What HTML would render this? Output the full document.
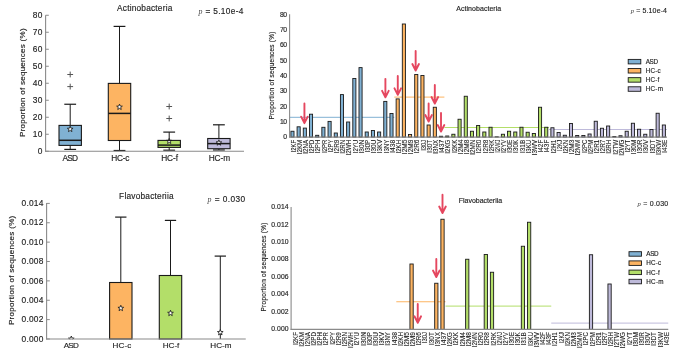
<!DOCTYPE html>
<html><head><meta charset="utf-8"><title>Actinobacteria / Flavobacteriia</title>
<style>
html,body{margin:0;padding:0;background:#fff;}
body{width:685px;height:356px;overflow:hidden;}
svg{display:block;font-family:'Liberation Sans', sans-serif;will-change:transform;}
text{stroke:#222;stroke-width:0.15px;}
.lb{stroke-width:0.1px;}
</style></head><body>
<svg width="685" height="356" viewBox="0 0 685 356">
<rect width="685" height="356" fill="#fff"/>
<line x1="70.2" y1="104.25" x2="70.2" y2="125.4" stroke="#1a1a1a" stroke-width="1"/>
<line x1="64.3" y1="104.25" x2="76.1" y2="104.25" stroke="#1a1a1a" stroke-width="1.2"/>
<line x1="70.2" y1="145.4" x2="70.2" y2="149.4" stroke="#1a1a1a" stroke-width="1"/>
<line x1="64.3" y1="149.4" x2="76.1" y2="149.4" stroke="#1a1a1a" stroke-width="1.2"/>
<rect x="59" y="125.4" width="22.4" height="20" fill="#80b1d3"/>
<path d="M67.3 74.5H73.1M70.2 71.6V77.4" stroke="#555" stroke-width="1" fill="none"/>
<path d="M67.3 86.6H73.1M70.2 83.7V89.5" stroke="#555" stroke-width="1" fill="none"/>
<line x1="119.5" y1="26.4" x2="119.5" y2="83.4" stroke="#1a1a1a" stroke-width="1"/>
<line x1="113.6" y1="26.4" x2="125.4" y2="26.4" stroke="#1a1a1a" stroke-width="1.2"/>
<line x1="119.5" y1="140.5" x2="119.5" y2="150.5" stroke="#1a1a1a" stroke-width="1"/>
<line x1="113.6" y1="150.5" x2="125.4" y2="150.5" stroke="#1a1a1a" stroke-width="1.2"/>
<rect x="108.3" y="83.4" width="22.4" height="57.1" fill="#fdb462"/>
<line x1="169.2" y1="132.1" x2="169.2" y2="140.4" stroke="#1a1a1a" stroke-width="1"/>
<line x1="163.3" y1="132.1" x2="175.1" y2="132.1" stroke="#1a1a1a" stroke-width="1.2"/>
<line x1="169.2" y1="147.4" x2="169.2" y2="150.2" stroke="#1a1a1a" stroke-width="1"/>
<line x1="163.3" y1="150.2" x2="175.1" y2="150.2" stroke="#1a1a1a" stroke-width="1.2"/>
<rect x="158" y="140.4" width="22.4" height="7" fill="#b3de69"/>
<path d="M166.3 106.5H172.1M169.2 103.6V109.4" stroke="#555" stroke-width="1" fill="none"/>
<path d="M166.3 118.5H172.1M169.2 115.6V121.4" stroke="#555" stroke-width="1" fill="none"/>
<line x1="218.9" y1="124.8" x2="218.9" y2="138.5" stroke="#1a1a1a" stroke-width="1"/>
<line x1="213" y1="124.8" x2="224.8" y2="124.8" stroke="#1a1a1a" stroke-width="1.2"/>
<line x1="218.9" y1="148.7" x2="218.9" y2="150" stroke="#1a1a1a" stroke-width="1"/>
<line x1="213" y1="150" x2="224.8" y2="150" stroke="#1a1a1a" stroke-width="1.2"/>
<rect x="207.7" y="138.5" width="22.4" height="10.2" fill="#bebada"/>
<polygon points="70.2,126.2 70.94,128.18 73.05,128.27 71.4,129.59 71.96,131.63 70.2,130.46 68.44,131.63 69,129.59 67.35,128.27 69.46,128.18" fill="#fff" stroke="#111" stroke-width="0.8" stroke-linejoin="miter"/>
<polygon points="119.5,104.1 120.24,106.08 122.35,106.17 120.7,107.49 121.26,109.53 119.5,108.36 117.74,109.53 118.3,107.49 116.65,106.17 118.76,106.08" fill="#fff" stroke="#111" stroke-width="0.8" stroke-linejoin="miter"/>
<polygon points="169.2,138.4 169.89,140.25 171.86,140.33 170.32,141.56 170.85,143.47 169.2,142.38 167.55,143.47 168.08,141.56 166.54,140.33 168.51,140.25" fill="#fff" stroke="#111" stroke-width="0.8" stroke-linejoin="miter"/>
<polygon points="218.9,139.8 219.64,141.78 221.75,141.87 220.1,143.19 220.66,145.23 218.9,144.06 217.14,145.23 217.7,143.19 216.05,141.87 218.16,141.78" fill="#fff" stroke="#111" stroke-width="0.8" stroke-linejoin="miter"/>
<rect x="59" y="125.4" width="22.4" height="20" fill="none" stroke="#1a1a1a" stroke-width="1.1"/>
<line x1="59" y1="140.3" x2="81.4" y2="140.3" stroke="#1a1a1a" stroke-width="1.5"/>
<rect x="108.3" y="83.4" width="22.4" height="57.1" fill="none" stroke="#1a1a1a" stroke-width="1.1"/>
<line x1="108.3" y1="113.4" x2="130.7" y2="113.4" stroke="#1a1a1a" stroke-width="1.5"/>
<rect x="158" y="140.4" width="22.4" height="7" fill="none" stroke="#1a1a1a" stroke-width="1.1"/>
<line x1="158" y1="145.1" x2="180.4" y2="145.1" stroke="#1a1a1a" stroke-width="1.5"/>
<rect x="207.7" y="138.5" width="22.4" height="10.2" fill="none" stroke="#1a1a1a" stroke-width="1.1"/>
<line x1="207.7" y1="143.6" x2="230.1" y2="143.6" stroke="#1a1a1a" stroke-width="1.5"/>
<line x1="45.6" y1="15.25" x2="45.6" y2="151.75" stroke="#8a8a8a" stroke-width="1.1"/>
<line x1="45.1" y1="151.25" x2="244" y2="151.25" stroke="#8a8a8a" stroke-width="1.1"/>
<line x1="45.6" y1="151.25" x2="48.8" y2="151.25" stroke="#8a8a8a" stroke-width="1"/>
<text x="42.3" y="154.25" font-size="8.4" text-anchor="end" textLength="4.72" lengthAdjust="spacing" fill="#1e1e1e">0</text>
<line x1="45.6" y1="134.25" x2="48.8" y2="134.25" stroke="#8a8a8a" stroke-width="1"/>
<text x="42.3" y="137.25" font-size="8.4" text-anchor="end" textLength="9.44" lengthAdjust="spacing" fill="#1e1e1e">10</text>
<line x1="45.6" y1="117.25" x2="48.8" y2="117.25" stroke="#8a8a8a" stroke-width="1"/>
<text x="42.3" y="120.25" font-size="8.4" text-anchor="end" textLength="9.44" lengthAdjust="spacing" fill="#1e1e1e">20</text>
<line x1="45.6" y1="100.25" x2="48.8" y2="100.25" stroke="#8a8a8a" stroke-width="1"/>
<text x="42.3" y="103.25" font-size="8.4" text-anchor="end" textLength="9.44" lengthAdjust="spacing" fill="#1e1e1e">30</text>
<line x1="45.6" y1="83.25" x2="48.8" y2="83.25" stroke="#8a8a8a" stroke-width="1"/>
<text x="42.3" y="86.25" font-size="8.4" text-anchor="end" textLength="9.44" lengthAdjust="spacing" fill="#1e1e1e">40</text>
<line x1="45.6" y1="66.25" x2="48.8" y2="66.25" stroke="#8a8a8a" stroke-width="1"/>
<text x="42.3" y="69.25" font-size="8.4" text-anchor="end" textLength="9.44" lengthAdjust="spacing" fill="#1e1e1e">50</text>
<line x1="45.6" y1="49.25" x2="48.8" y2="49.25" stroke="#8a8a8a" stroke-width="1"/>
<text x="42.3" y="52.25" font-size="8.4" text-anchor="end" textLength="9.44" lengthAdjust="spacing" fill="#1e1e1e">60</text>
<line x1="45.6" y1="32.25" x2="48.8" y2="32.25" stroke="#8a8a8a" stroke-width="1"/>
<text x="42.3" y="35.25" font-size="8.4" text-anchor="end" textLength="9.44" lengthAdjust="spacing" fill="#1e1e1e">70</text>
<line x1="45.6" y1="15.25" x2="48.8" y2="15.25" stroke="#8a8a8a" stroke-width="1"/>
<text x="42.3" y="18.25" font-size="8.4" text-anchor="end" textLength="9.44" lengthAdjust="spacing" fill="#1e1e1e">80</text>
<text x="117.1" y="11.2" font-size="8.3" text-anchor="start" textLength="55.2" lengthAdjust="spacing" fill="#1e1e1e">Actinobacteria</text>
<text x="198.5" y="14.1" font-size="8.3" fill="#1e1e1e" textLength="44.9" lengthAdjust="spacing"><tspan font-family="'Liberation Serif', serif" font-style="italic" font-size="7.89" fill="#444" stroke-width="0">p</tspan> = 5.10e-4</text>
<text transform="translate(25.2 82.7) rotate(-90)" font-size="8" text-anchor="middle" textLength="108.6" lengthAdjust="spacing" fill="#1e1e1e">Proportion of sequences (%)</text>
<text x="70.2" y="160.8" font-size="8.3" text-anchor="middle" textLength="15.4" lengthAdjust="spacing" fill="#1e1e1e">ASD</text>
<text x="120.3" y="160.8" font-size="8.3" text-anchor="middle" textLength="18" lengthAdjust="spacing" fill="#1e1e1e">HC-c</text>
<text x="169.6" y="160.8" font-size="8.3" text-anchor="middle" textLength="16.7" lengthAdjust="spacing" fill="#1e1e1e">HC-f</text>
<text x="219.4" y="160.8" font-size="8.3" text-anchor="middle" textLength="21.3" lengthAdjust="spacing" fill="#1e1e1e">HC-m</text>
<polygon points="71.3,336 72.04,337.98 74.15,338.07 72.5,339.39 73.06,341.43 71.3,340.26 69.54,341.43 70.1,339.39 68.45,338.07 70.56,337.98" fill="#fff" stroke="#111" stroke-width="0.8" stroke-linejoin="miter"/>
<rect x="60" y="339.4" width="25" height="6" fill="#fff"/>
<line x1="120.8" y1="217.1" x2="120.8" y2="282.5" stroke="#1a1a1a" stroke-width="1"/>
<line x1="115.15" y1="217.1" x2="126.45" y2="217.1" stroke="#1a1a1a" stroke-width="1.2"/>
<rect x="109.6" y="282.5" width="22.4" height="56.5" fill="#fdb462"/>
<line x1="170.5" y1="220.4" x2="170.5" y2="275.5" stroke="#1a1a1a" stroke-width="1"/>
<line x1="164.85" y1="220.4" x2="176.15" y2="220.4" stroke="#1a1a1a" stroke-width="1.2"/>
<rect x="159.3" y="275.5" width="22.4" height="63.5" fill="#b3de69"/>
<line x1="220.3" y1="256.1" x2="220.3" y2="339" stroke="#1a1a1a" stroke-width="1"/>
<line x1="214.65" y1="256.1" x2="225.95" y2="256.1" stroke="#1a1a1a" stroke-width="1.2"/>
<polygon points="120.8,305.25 121.54,307.23 123.65,307.32 122,308.64 122.56,310.68 120.8,309.51 119.04,310.68 119.6,308.64 117.95,307.32 120.06,307.23" fill="#fff" stroke="#111" stroke-width="0.8" stroke-linejoin="miter"/>
<polygon points="170.5,310.25 171.24,312.23 173.35,312.32 171.7,313.64 172.26,315.68 170.5,314.51 168.74,315.68 169.3,313.64 167.65,312.32 169.76,312.23" fill="#fff" stroke="#111" stroke-width="0.8" stroke-linejoin="miter"/>
<polygon points="220.3,329.5 221.04,331.48 223.15,331.57 221.5,332.89 222.06,334.93 220.3,333.76 218.54,334.93 219.1,332.89 217.45,331.57 219.56,331.48" fill="#fff" stroke="#111" stroke-width="0.8" stroke-linejoin="miter"/>
<rect x="109.6" y="282.5" width="22.4" height="56.5" fill="none" stroke="#1a1a1a" stroke-width="1.1"/>
<rect x="159.3" y="275.5" width="22.4" height="63.5" fill="none" stroke="#1a1a1a" stroke-width="1.1"/>
<line x1="46.6" y1="203" x2="46.6" y2="339.5" stroke="#8a8a8a" stroke-width="1.1"/>
<line x1="46.1" y1="339" x2="245.75" y2="339" stroke="#8a8a8a" stroke-width="1.1"/>
<line x1="46.6" y1="338.99" x2="49.8" y2="338.99" stroke="#8a8a8a" stroke-width="1"/>
<text x="43.3" y="341.69" font-size="8.4" text-anchor="end" textLength="21.7" lengthAdjust="spacing" fill="#1e1e1e">0.000</text>
<line x1="46.6" y1="319.62" x2="49.8" y2="319.62" stroke="#8a8a8a" stroke-width="1"/>
<text x="43.3" y="322.32" font-size="8.4" text-anchor="end" textLength="21.7" lengthAdjust="spacing" fill="#1e1e1e">0.002</text>
<line x1="46.6" y1="300.25" x2="49.8" y2="300.25" stroke="#8a8a8a" stroke-width="1"/>
<text x="43.3" y="302.95" font-size="8.4" text-anchor="end" textLength="21.7" lengthAdjust="spacing" fill="#1e1e1e">0.004</text>
<line x1="46.6" y1="280.88" x2="49.8" y2="280.88" stroke="#8a8a8a" stroke-width="1"/>
<text x="43.3" y="283.58" font-size="8.4" text-anchor="end" textLength="21.7" lengthAdjust="spacing" fill="#1e1e1e">0.006</text>
<line x1="46.6" y1="261.51" x2="49.8" y2="261.51" stroke="#8a8a8a" stroke-width="1"/>
<text x="43.3" y="264.21" font-size="8.4" text-anchor="end" textLength="21.7" lengthAdjust="spacing" fill="#1e1e1e">0.008</text>
<line x1="46.6" y1="242.14" x2="49.8" y2="242.14" stroke="#8a8a8a" stroke-width="1"/>
<text x="43.3" y="244.84" font-size="8.4" text-anchor="end" textLength="21.7" lengthAdjust="spacing" fill="#1e1e1e">0.010</text>
<line x1="46.6" y1="222.77" x2="49.8" y2="222.77" stroke="#8a8a8a" stroke-width="1"/>
<text x="43.3" y="225.47" font-size="8.4" text-anchor="end" textLength="21.7" lengthAdjust="spacing" fill="#1e1e1e">0.012</text>
<line x1="46.6" y1="203.4" x2="49.8" y2="203.4" stroke="#8a8a8a" stroke-width="1"/>
<text x="43.3" y="206.1" font-size="8.4" text-anchor="end" textLength="21.7" lengthAdjust="spacing" fill="#1e1e1e">0.014</text>
<text x="119.1" y="198.9" font-size="8.3" text-anchor="start" textLength="54.5" lengthAdjust="spacing" fill="#1e1e1e">Flavobacteriia</text>
<text x="207.6" y="202.2" font-size="8.3" fill="#1e1e1e" textLength="37.6" lengthAdjust="spacing"><tspan font-family="'Liberation Serif', serif" font-style="italic" font-size="7.89" fill="#444" stroke-width="0">p</tspan> = 0.030</text>
<text transform="translate(14 270.4) rotate(-90)" font-size="8" text-anchor="middle" textLength="109.3" lengthAdjust="spacing" fill="#1e1e1e">Proportion of sequences (%)</text>
<text x="71.3" y="348.3" font-size="8.1" text-anchor="middle" textLength="15.1" lengthAdjust="spacing" fill="#1e1e1e">ASD</text>
<text x="121.9" y="348.3" font-size="8.1" text-anchor="middle" textLength="18.8" lengthAdjust="spacing" fill="#1e1e1e">HC-c</text>
<text x="171" y="348.3" font-size="8.1" text-anchor="middle" textLength="16.7" lengthAdjust="spacing" fill="#1e1e1e">HC-f</text>
<text x="220.9" y="348.3" font-size="8.1" text-anchor="middle" textLength="21.3" lengthAdjust="spacing" fill="#1e1e1e">HC-m</text>
<line x1="289.6" y1="117.3" x2="394.3" y2="117.3" stroke="#80b1d3" stroke-width="1"/>
<line x1="394.3" y1="97.1" x2="444.4" y2="97.1" stroke="#fdb462" stroke-width="1"/>
<line x1="444.4" y1="127.5" x2="549" y2="127.5" stroke="#b3de69" stroke-width="1"/>
<line x1="549" y1="129.5" x2="667" y2="129.5" stroke="#bebada" stroke-width="1"/>
<rect x="290.9" y="131.25" width="3.1" height="5.85" fill="#80b1d3" stroke="#1a1a1a" stroke-width="0.9"/>
<rect x="297.09" y="126.8" width="3.1" height="10.3" fill="#80b1d3" stroke="#1a1a1a" stroke-width="0.9"/>
<rect x="303.28" y="128.1" width="3.1" height="9" fill="#80b1d3" stroke="#1a1a1a" stroke-width="0.9"/>
<rect x="309.47" y="114.2" width="3.1" height="22.9" fill="#80b1d3" stroke="#1a1a1a" stroke-width="0.9"/>
<rect x="315.66" y="135.3" width="3.1" height="1.8" fill="#80b1d3" stroke="#1a1a1a" stroke-width="0.9"/>
<rect x="321.85" y="127.3" width="3.1" height="9.8" fill="#80b1d3" stroke="#1a1a1a" stroke-width="0.9"/>
<rect x="328.04" y="121.4" width="3.1" height="15.7" fill="#80b1d3" stroke="#1a1a1a" stroke-width="0.9"/>
<rect x="334.23" y="133" width="3.1" height="4.1" fill="#80b1d3" stroke="#1a1a1a" stroke-width="0.9"/>
<rect x="340.42" y="94.6" width="3.1" height="42.5" fill="#80b1d3" stroke="#1a1a1a" stroke-width="0.9"/>
<rect x="346.61" y="122" width="3.1" height="15.1" fill="#80b1d3" stroke="#1a1a1a" stroke-width="0.9"/>
<rect x="352.8" y="78.5" width="3.1" height="58.6" fill="#80b1d3" stroke="#1a1a1a" stroke-width="0.9"/>
<rect x="358.99" y="67.6" width="3.1" height="69.5" fill="#80b1d3" stroke="#1a1a1a" stroke-width="0.9"/>
<rect x="365.18" y="132" width="3.1" height="5.1" fill="#80b1d3" stroke="#1a1a1a" stroke-width="0.9"/>
<rect x="371.37" y="130.5" width="3.1" height="6.6" fill="#80b1d3" stroke="#1a1a1a" stroke-width="0.9"/>
<rect x="377.56" y="132" width="3.1" height="5.1" fill="#80b1d3" stroke="#1a1a1a" stroke-width="0.9"/>
<rect x="383.75" y="101.4" width="3.1" height="35.7" fill="#80b1d3" stroke="#1a1a1a" stroke-width="0.9"/>
<rect x="389.94" y="113.5" width="3.1" height="23.6" fill="#80b1d3" stroke="#1a1a1a" stroke-width="0.9"/>
<rect x="396.13" y="98.9" width="3.1" height="38.2" fill="#fdb462" stroke="#1a1a1a" stroke-width="0.9"/>
<rect x="402.32" y="24" width="3.1" height="113.1" fill="#fdb462" stroke="#1a1a1a" stroke-width="0.9"/>
<rect x="408.51" y="134.5" width="3.1" height="2.6" fill="#fdb462" stroke="#1a1a1a" stroke-width="0.9"/>
<rect x="414.7" y="74.5" width="3.1" height="62.6" fill="#fdb462" stroke="#1a1a1a" stroke-width="0.9"/>
<rect x="420.89" y="75.5" width="3.1" height="61.6" fill="#fdb462" stroke="#1a1a1a" stroke-width="0.9"/>
<rect x="427.08" y="125" width="3.1" height="12.1" fill="#fdb462" stroke="#1a1a1a" stroke-width="0.9"/>
<rect x="433.27" y="107.25" width="3.1" height="29.85" fill="#fdb462" stroke="#1a1a1a" stroke-width="0.9"/>
<rect x="439.46" y="136.25" width="3.1" height="0.85" fill="#fdb462" stroke="#1a1a1a" stroke-width="0.9"/>
<rect x="445.65" y="136" width="3.1" height="1.1" fill="#b3de69" stroke="#1a1a1a" stroke-width="0.9"/>
<rect x="451.84" y="134.25" width="3.1" height="2.85" fill="#b3de69" stroke="#1a1a1a" stroke-width="0.9"/>
<rect x="458.03" y="119.25" width="3.1" height="17.85" fill="#b3de69" stroke="#1a1a1a" stroke-width="0.9"/>
<rect x="464.22" y="96.25" width="3.1" height="40.85" fill="#b3de69" stroke="#1a1a1a" stroke-width="0.9"/>
<rect x="470.41" y="131.25" width="3.1" height="5.85" fill="#b3de69" stroke="#1a1a1a" stroke-width="0.9"/>
<rect x="476.6" y="125.5" width="3.1" height="11.6" fill="#b3de69" stroke="#1a1a1a" stroke-width="0.9"/>
<rect x="482.79" y="132" width="3.1" height="5.1" fill="#b3de69" stroke="#1a1a1a" stroke-width="0.9"/>
<rect x="488.98" y="127.25" width="3.1" height="9.85" fill="#b3de69" stroke="#1a1a1a" stroke-width="0.9"/>
<rect x="495.17" y="136.75" width="3.1" height="0.35" fill="#b3de69" stroke="#1a1a1a" stroke-width="0.9"/>
<rect x="501.36" y="134.25" width="3.1" height="2.85" fill="#b3de69" stroke="#1a1a1a" stroke-width="0.9"/>
<rect x="507.55" y="131.25" width="3.1" height="5.85" fill="#b3de69" stroke="#1a1a1a" stroke-width="0.9"/>
<rect x="513.74" y="132" width="3.1" height="5.1" fill="#b3de69" stroke="#1a1a1a" stroke-width="0.9"/>
<rect x="519.93" y="127.25" width="3.1" height="9.85" fill="#b3de69" stroke="#1a1a1a" stroke-width="0.9"/>
<rect x="526.12" y="132.25" width="3.1" height="4.85" fill="#b3de69" stroke="#1a1a1a" stroke-width="0.9"/>
<rect x="532.31" y="133.5" width="3.1" height="3.6" fill="#b3de69" stroke="#1a1a1a" stroke-width="0.9"/>
<rect x="538.5" y="107.25" width="3.1" height="29.85" fill="#b3de69" stroke="#1a1a1a" stroke-width="0.9"/>
<rect x="544.69" y="127.25" width="3.1" height="9.85" fill="#b3de69" stroke="#1a1a1a" stroke-width="0.9"/>
<rect x="550.88" y="127.75" width="3.1" height="9.35" fill="#bebada" stroke="#1a1a1a" stroke-width="0.9"/>
<rect x="557.07" y="132.5" width="3.1" height="4.6" fill="#bebada" stroke="#1a1a1a" stroke-width="0.9"/>
<rect x="563.26" y="135.25" width="3.1" height="1.85" fill="#bebada" stroke="#1a1a1a" stroke-width="0.9"/>
<rect x="569.45" y="123.5" width="3.1" height="13.6" fill="#bebada" stroke="#1a1a1a" stroke-width="0.9"/>
<rect x="575.64" y="135.5" width="3.1" height="1.6" fill="#bebada" stroke="#1a1a1a" stroke-width="0.9"/>
<rect x="581.83" y="135.5" width="3.1" height="1.6" fill="#bebada" stroke="#1a1a1a" stroke-width="0.9"/>
<rect x="588.02" y="134" width="3.1" height="3.1" fill="#bebada" stroke="#1a1a1a" stroke-width="0.9"/>
<rect x="594.21" y="121.25" width="3.1" height="15.85" fill="#bebada" stroke="#1a1a1a" stroke-width="0.9"/>
<rect x="600.4" y="128.25" width="3.1" height="8.85" fill="#bebada" stroke="#1a1a1a" stroke-width="0.9"/>
<rect x="606.59" y="126" width="3.1" height="11.1" fill="#bebada" stroke="#1a1a1a" stroke-width="0.9"/>
<rect x="612.78" y="136.5" width="3.1" height="0.6" fill="#bebada" stroke="#1a1a1a" stroke-width="0.9"/>
<rect x="618.97" y="135.75" width="3.1" height="1.35" fill="#bebada" stroke="#1a1a1a" stroke-width="0.9"/>
<rect x="625.16" y="131.25" width="3.1" height="5.85" fill="#bebada" stroke="#1a1a1a" stroke-width="0.9"/>
<rect x="631.35" y="123.25" width="3.1" height="13.85" fill="#bebada" stroke="#1a1a1a" stroke-width="0.9"/>
<rect x="637.54" y="129.25" width="3.1" height="7.85" fill="#bebada" stroke="#1a1a1a" stroke-width="0.9"/>
<rect x="643.73" y="134.25" width="3.1" height="2.85" fill="#bebada" stroke="#1a1a1a" stroke-width="0.9"/>
<rect x="649.92" y="129.5" width="3.1" height="7.6" fill="#bebada" stroke="#1a1a1a" stroke-width="0.9"/>
<rect x="656.11" y="113.25" width="3.1" height="23.85" fill="#bebada" stroke="#1a1a1a" stroke-width="0.9"/>
<rect x="662.3" y="125" width="3.1" height="12.1" fill="#bebada" stroke="#1a1a1a" stroke-width="0.9"/>
<line x1="289.6" y1="14.25" x2="289.6" y2="137.6" stroke="#8a8a8a" stroke-width="1.1"/>
<line x1="289.1" y1="137.1" x2="667" y2="137.1" stroke="#8a8a8a" stroke-width="1.1"/>
<text x="287.1" y="139.4" font-size="6.8" text-anchor="end" textLength="3.6" lengthAdjust="spacing" fill="#1e1e1e">0</text>
<text x="287.1" y="124.06" font-size="6.8" text-anchor="end" textLength="7.2" lengthAdjust="spacing" fill="#1e1e1e">10</text>
<text x="287.1" y="108.72" font-size="6.8" text-anchor="end" textLength="7.2" lengthAdjust="spacing" fill="#1e1e1e">20</text>
<text x="287.1" y="93.38" font-size="6.8" text-anchor="end" textLength="7.2" lengthAdjust="spacing" fill="#1e1e1e">30</text>
<text x="287.1" y="78.04" font-size="6.8" text-anchor="end" textLength="7.2" lengthAdjust="spacing" fill="#1e1e1e">40</text>
<text x="287.1" y="62.7" font-size="6.8" text-anchor="end" textLength="7.2" lengthAdjust="spacing" fill="#1e1e1e">50</text>
<text x="287.1" y="47.36" font-size="6.8" text-anchor="end" textLength="7.2" lengthAdjust="spacing" fill="#1e1e1e">60</text>
<text x="287.1" y="32.02" font-size="6.8" text-anchor="end" textLength="7.2" lengthAdjust="spacing" fill="#1e1e1e">70</text>
<text x="287.1" y="16.68" font-size="6.8" text-anchor="end" textLength="7.2" lengthAdjust="spacing" fill="#1e1e1e">80</text>
<text class="lb" transform="translate(295.65 139.7) rotate(-90)" font-size="6.5" text-anchor="end" textLength="12.86" lengthAdjust="spacingAndGlyphs" fill="#1e1e1e">I2KF</text>
<text class="lb" transform="translate(301.84 139.7) rotate(-90)" font-size="6.5" text-anchor="end" textLength="14.58" lengthAdjust="spacingAndGlyphs" fill="#1e1e1e">I2KM</text>
<text class="lb" transform="translate(308.03 139.7) rotate(-90)" font-size="6.5" text-anchor="end" textLength="14.06" lengthAdjust="spacingAndGlyphs" fill="#1e1e1e">I2NA</text>
<text class="lb" transform="translate(314.22 139.7) rotate(-90)" font-size="6.5" text-anchor="end" textLength="13.71" lengthAdjust="spacingAndGlyphs" fill="#1e1e1e">I2PD</text>
<text class="lb" transform="translate(320.41 139.7) rotate(-90)" font-size="6.5" text-anchor="end" textLength="13.6" lengthAdjust="spacingAndGlyphs" fill="#1e1e1e">I2PH</text>
<text class="lb" transform="translate(326.6 139.7) rotate(-90)" font-size="6.5" text-anchor="end" textLength="13.26" lengthAdjust="spacingAndGlyphs" fill="#1e1e1e">I2PR</text>
<text class="lb" transform="translate(332.79 139.7) rotate(-90)" font-size="6.5" text-anchor="end" textLength="12.76" lengthAdjust="spacingAndGlyphs" fill="#1e1e1e">I2PY</text>
<text class="lb" transform="translate(338.98 139.7) rotate(-90)" font-size="6.5" text-anchor="end" textLength="13.46" lengthAdjust="spacingAndGlyphs" fill="#1e1e1e">I2R9</text>
<text class="lb" transform="translate(345.17 139.7) rotate(-90)" font-size="6.5" text-anchor="end" textLength="14.13" lengthAdjust="spacingAndGlyphs" fill="#1e1e1e">I2RN</text>
<text class="lb" transform="translate(351.36 139.7) rotate(-90)" font-size="6.5" text-anchor="end" textLength="15.9" lengthAdjust="spacingAndGlyphs" fill="#1e1e1e">I2WH</text>
<text class="lb" transform="translate(357.55 139.7) rotate(-90)" font-size="6.5" text-anchor="end" textLength="13.53" lengthAdjust="spacingAndGlyphs" fill="#1e1e1e">I2YU</text>
<text class="lb" transform="translate(363.74 139.7) rotate(-90)" font-size="6.5" text-anchor="end" textLength="13.77" lengthAdjust="spacingAndGlyphs" fill="#1e1e1e">I30N</text>
<text class="lb" transform="translate(369.93 139.7) rotate(-90)" font-size="6.5" text-anchor="end" textLength="12.91" lengthAdjust="spacingAndGlyphs" fill="#1e1e1e">I30P</text>
<text class="lb" transform="translate(376.12 139.7) rotate(-90)" font-size="6.5" text-anchor="end" textLength="13.68" lengthAdjust="spacingAndGlyphs" fill="#1e1e1e">I30U</text>
<text class="lb" transform="translate(382.31 139.7) rotate(-90)" font-size="6.5" text-anchor="end" textLength="13.51" lengthAdjust="spacingAndGlyphs" fill="#1e1e1e">I3KV</text>
<text class="lb" transform="translate(388.5 139.7) rotate(-90)" font-size="6.5" text-anchor="end" textLength="13.63" lengthAdjust="spacingAndGlyphs" fill="#1e1e1e">I3NY</text>
<text class="lb" transform="translate(394.69 139.7) rotate(-90)" font-size="6.5" text-anchor="end" textLength="13.11" lengthAdjust="spacingAndGlyphs" fill="#1e1e1e">I438</text>
<text class="lb" transform="translate(400.88 139.7) rotate(-90)" font-size="6.5" text-anchor="end" textLength="13.92" lengthAdjust="spacingAndGlyphs" fill="#1e1e1e">I2KH</text>
<text class="lb" transform="translate(407.07 139.7) rotate(-90)" font-size="6.5" text-anchor="end" textLength="14.46" lengthAdjust="spacingAndGlyphs" fill="#1e1e1e">I2M5</text>
<text class="lb" transform="translate(413.26 139.7) rotate(-90)" font-size="6.5" text-anchor="end" textLength="14.46" lengthAdjust="spacingAndGlyphs" fill="#1e1e1e">I2M9</text>
<text class="lb" transform="translate(419.45 139.7) rotate(-90)" font-size="6.5" text-anchor="end" textLength="13.46" lengthAdjust="spacingAndGlyphs" fill="#1e1e1e">I2R6</text>
<text class="lb" transform="translate(425.64 139.7) rotate(-90)" font-size="6.5" text-anchor="end" textLength="11.08" lengthAdjust="spacingAndGlyphs" fill="#1e1e1e">I30J</text>
<text class="lb" transform="translate(431.83 139.7) rotate(-90)" font-size="6.5" text-anchor="end" textLength="12.96" lengthAdjust="spacingAndGlyphs" fill="#1e1e1e">I30T</text>
<text class="lb" transform="translate(438.02 139.7) rotate(-90)" font-size="6.5" text-anchor="end" textLength="14.07" lengthAdjust="spacingAndGlyphs" fill="#1e1e1e">I3NX</text>
<text class="lb" transform="translate(444.21 139.7) rotate(-90)" font-size="6.5" text-anchor="end" textLength="13.11" lengthAdjust="spacingAndGlyphs" fill="#1e1e1e">I437</text>
<text class="lb" transform="translate(450.4 139.7) rotate(-90)" font-size="6.5" text-anchor="end" textLength="14.05" lengthAdjust="spacingAndGlyphs" fill="#1e1e1e">I2KG</text>
<text class="lb" transform="translate(456.59 139.7) rotate(-90)" font-size="6.5" text-anchor="end" textLength="13.35" lengthAdjust="spacingAndGlyphs" fill="#1e1e1e">I2KK</text>
<text class="lb" transform="translate(462.78 139.7) rotate(-90)" font-size="6.5" text-anchor="end" textLength="14.46" lengthAdjust="spacingAndGlyphs" fill="#1e1e1e">I2M4</text>
<text class="lb" transform="translate(468.97 139.7) rotate(-90)" font-size="6.5" text-anchor="end" textLength="14.46" lengthAdjust="spacingAndGlyphs" fill="#1e1e1e">I2M8</text>
<text class="lb" transform="translate(475.16 139.7) rotate(-90)" font-size="6.5" text-anchor="end" textLength="15.12" lengthAdjust="spacingAndGlyphs" fill="#1e1e1e">I2MN</text>
<text class="lb" transform="translate(481.35 139.7) rotate(-90)" font-size="6.5" text-anchor="end" textLength="13.46" lengthAdjust="spacingAndGlyphs" fill="#1e1e1e">I2R0</text>
<text class="lb" transform="translate(487.54 139.7) rotate(-90)" font-size="6.5" text-anchor="end" textLength="13.46" lengthAdjust="spacingAndGlyphs" fill="#1e1e1e">I2R8</text>
<text class="lb" transform="translate(493.73 139.7) rotate(-90)" font-size="6.5" text-anchor="end" textLength="13.58" lengthAdjust="spacingAndGlyphs" fill="#1e1e1e">I2RK</text>
<text class="lb" transform="translate(499.92 139.7) rotate(-90)" font-size="6.5" text-anchor="end" textLength="13.18" lengthAdjust="spacingAndGlyphs" fill="#1e1e1e">I2WJ</text>
<text class="lb" transform="translate(506.11 139.7) rotate(-90)" font-size="6.5" text-anchor="end" textLength="13.24" lengthAdjust="spacingAndGlyphs" fill="#1e1e1e">I2YV</text>
<text class="lb" transform="translate(512.3 139.7) rotate(-90)" font-size="6.5" text-anchor="end" textLength="13.08" lengthAdjust="spacingAndGlyphs" fill="#1e1e1e">I30E</text>
<text class="lb" transform="translate(518.49 139.7) rotate(-90)" font-size="6.5" text-anchor="end" textLength="13.23" lengthAdjust="spacingAndGlyphs" fill="#1e1e1e">I30K</text>
<text class="lb" transform="translate(524.68 139.7) rotate(-90)" font-size="6.5" text-anchor="end" textLength="13.41" lengthAdjust="spacingAndGlyphs" fill="#1e1e1e">I31B</text>
<text class="lb" transform="translate(530.87 139.7) rotate(-90)" font-size="6.5" text-anchor="end" textLength="13.8" lengthAdjust="spacingAndGlyphs" fill="#1e1e1e">I3KU</text>
<text class="lb" transform="translate(537.06 139.7) rotate(-90)" font-size="6.5" text-anchor="end" textLength="15.49" lengthAdjust="spacingAndGlyphs" fill="#1e1e1e">I3WV</text>
<text class="lb" transform="translate(543.25 139.7) rotate(-90)" font-size="6.5" text-anchor="end" textLength="12.74" lengthAdjust="spacingAndGlyphs" fill="#1e1e1e">I42F</text>
<text class="lb" transform="translate(549.44 139.7) rotate(-90)" font-size="6.5" text-anchor="end" textLength="12.74" lengthAdjust="spacingAndGlyphs" fill="#1e1e1e">I43F</text>
<text class="lb" transform="translate(555.63 139.7) rotate(-90)" font-size="6.5" text-anchor="end" textLength="13.8" lengthAdjust="spacingAndGlyphs" fill="#1e1e1e">I2H1</text>
<text class="lb" transform="translate(561.82 139.7) rotate(-90)" font-size="6.5" text-anchor="end" textLength="11.2" lengthAdjust="spacingAndGlyphs" fill="#1e1e1e">I2KJ</text>
<text class="lb" transform="translate(568.01 139.7) rotate(-90)" font-size="6.5" text-anchor="end" textLength="13.89" lengthAdjust="spacingAndGlyphs" fill="#1e1e1e">I2KN</text>
<text class="lb" transform="translate(574.2 139.7) rotate(-90)" font-size="6.5" text-anchor="end" textLength="14.46" lengthAdjust="spacingAndGlyphs" fill="#1e1e1e">I2M3</text>
<text class="lb" transform="translate(580.39 139.7) rotate(-90)" font-size="6.5" text-anchor="end" textLength="15.81" lengthAdjust="spacingAndGlyphs" fill="#1e1e1e">I2MM</text>
<text class="lb" transform="translate(586.58 139.7) rotate(-90)" font-size="6.5" text-anchor="end" textLength="13.28" lengthAdjust="spacingAndGlyphs" fill="#1e1e1e">I2PC</text>
<text class="lb" transform="translate(592.77 139.7) rotate(-90)" font-size="6.5" text-anchor="end" textLength="14.26" lengthAdjust="spacingAndGlyphs" fill="#1e1e1e">I2PM</text>
<text class="lb" transform="translate(598.96 139.7) rotate(-90)" font-size="6.5" text-anchor="end" textLength="13.46" lengthAdjust="spacingAndGlyphs" fill="#1e1e1e">I2R1</text>
<text class="lb" transform="translate(605.15 139.7) rotate(-90)" font-size="6.5" text-anchor="end" textLength="13.46" lengthAdjust="spacingAndGlyphs" fill="#1e1e1e">I2R7</text>
<text class="lb" transform="translate(611.34 139.7) rotate(-90)" font-size="6.5" text-anchor="end" textLength="14.15" lengthAdjust="spacingAndGlyphs" fill="#1e1e1e">I2RH</text>
<text class="lb" transform="translate(617.53 139.7) rotate(-90)" font-size="6.5" text-anchor="end" textLength="15.06" lengthAdjust="spacingAndGlyphs" fill="#1e1e1e">I2TW</text>
<text class="lb" transform="translate(623.72 139.7) rotate(-90)" font-size="6.5" text-anchor="end" textLength="16.04" lengthAdjust="spacingAndGlyphs" fill="#1e1e1e">I2WG</text>
<text class="lb" transform="translate(629.91 139.7) rotate(-90)" font-size="6.5" text-anchor="end" textLength="12.81" lengthAdjust="spacingAndGlyphs" fill="#1e1e1e">I2YT</text>
<text class="lb" transform="translate(636.1 139.7) rotate(-90)" font-size="6.5" text-anchor="end" textLength="14.46" lengthAdjust="spacingAndGlyphs" fill="#1e1e1e">I30M</text>
<text class="lb" transform="translate(642.29 139.7) rotate(-90)" font-size="6.5" text-anchor="end" textLength="13.46" lengthAdjust="spacingAndGlyphs" fill="#1e1e1e">I30R</text>
<text class="lb" transform="translate(648.48 139.7) rotate(-90)" font-size="6.5" text-anchor="end" textLength="13.39" lengthAdjust="spacingAndGlyphs" fill="#1e1e1e">I30V</text>
<text class="lb" transform="translate(654.67 139.7) rotate(-90)" font-size="6.5" text-anchor="end" textLength="13.76" lengthAdjust="spacingAndGlyphs" fill="#1e1e1e">I3DT</text>
<text class="lb" transform="translate(660.86 139.7) rotate(-90)" font-size="6.5" text-anchor="end" textLength="15.33" lengthAdjust="spacingAndGlyphs" fill="#1e1e1e">I3KW</text>
<text class="lb" transform="translate(667.05 139.7) rotate(-90)" font-size="6.5" text-anchor="end" textLength="13.08" lengthAdjust="spacingAndGlyphs" fill="#1e1e1e">I43E</text>
<text x="456.25" y="10.9" font-size="7" text-anchor="start" textLength="45" lengthAdjust="spacing" fill="#1e1e1e">Actinobacteria</text>
<text x="630.8" y="13.2" font-size="7" fill="#1e1e1e" textLength="36.2" lengthAdjust="spacing"><tspan font-family="'Liberation Serif', serif" font-style="italic" font-size="6.65" fill="#444" stroke-width="0">p</tspan> = 5.10e-4</text>
<text transform="translate(273.8 75.6) rotate(-90)" font-size="6.5" text-anchor="middle" textLength="88" lengthAdjust="spacing" fill="#1e1e1e">Proportion of sequences (%)</text>
<rect x="628.2" y="59.4" width="12.6" height="4.5" fill="#80b1d3" stroke="#1a1a1a" stroke-width="0.9"/>
<text x="645.7" y="63.9" font-size="6.3" text-anchor="start" textLength="12.4" lengthAdjust="spacing" fill="#1e1e1e">ASD</text>
<rect x="628.2" y="68.53" width="12.6" height="4.5" fill="#fdb462" stroke="#1a1a1a" stroke-width="0.9"/>
<text x="645.7" y="73.03" font-size="6.3" text-anchor="start" textLength="15" lengthAdjust="spacing" fill="#1e1e1e">HC-c</text>
<rect x="628.2" y="77.66" width="12.6" height="4.5" fill="#b3de69" stroke="#1a1a1a" stroke-width="0.9"/>
<text x="645.7" y="82.16" font-size="6.3" text-anchor="start" textLength="13.6" lengthAdjust="spacing" fill="#1e1e1e">HC-f</text>
<rect x="628.2" y="86.79" width="12.6" height="4.5" fill="#bebada" stroke="#1a1a1a" stroke-width="0.9"/>
<text x="645.7" y="91.29" font-size="6.3" text-anchor="start" textLength="17.3" lengthAdjust="spacing" fill="#1e1e1e">HC-m</text>
<path d="M304.43 103.45V122.65M301.13 116.65L304.43 123.15L307.73 116.65" stroke="#e5475f" stroke-width="1.9" fill="none" stroke-linecap="round" stroke-linejoin="round"/>
<path d="M302.93 119.65L304.43 123.15L305.93 119.65Z" fill="#e5475f"/>
<path d="M385.4 78.85V96.85M382.1 90.85L385.4 97.35L388.7 90.85" stroke="#e5475f" stroke-width="1.9" fill="none" stroke-linecap="round" stroke-linejoin="round"/>
<path d="M383.9 93.85L385.4 97.35L386.9 93.85Z" fill="#e5475f"/>
<path d="M397.78 76.05V94.35M394.48 88.35L397.78 94.85L401.08 88.35" stroke="#e5475f" stroke-width="1.9" fill="none" stroke-linecap="round" stroke-linejoin="round"/>
<path d="M396.28 91.35L397.78 94.85L399.28 91.35Z" fill="#e5475f"/>
<path d="M415.65 50.95V70.05M412.35 64.05L415.65 70.55L418.95 64.05" stroke="#e5475f" stroke-width="1.9" fill="none" stroke-linecap="round" stroke-linejoin="round"/>
<path d="M414.15 67.05L415.65 70.55L417.15 67.05Z" fill="#e5475f"/>
<path d="M428.63 103.55V121.05M425.33 115.05L428.63 121.55L431.93 115.05" stroke="#e5475f" stroke-width="1.9" fill="none" stroke-linecap="round" stroke-linejoin="round"/>
<path d="M427.13 118.05L428.63 121.55L430.13 118.05Z" fill="#e5475f"/>
<path d="M434.82 85.05V103.05M431.52 97.05L434.82 103.55L438.12 97.05" stroke="#e5475f" stroke-width="1.9" fill="none" stroke-linecap="round" stroke-linejoin="round"/>
<path d="M433.32 100.05L434.82 103.55L436.32 100.05Z" fill="#e5475f"/>
<path d="M441.01 112.95V131.05M437.71 125.05L441.01 131.55L444.31 125.05" stroke="#e5475f" stroke-width="1.9" fill="none" stroke-linecap="round" stroke-linejoin="round"/>
<path d="M439.51 128.05L441.01 131.55L442.51 128.05Z" fill="#e5475f"/>
<line x1="396.3" y1="301.75" x2="445.5" y2="301.75" stroke="#fdb462" stroke-width="1"/>
<line x1="445.5" y1="306.1" x2="551.25" y2="306.1" stroke="#b3de69" stroke-width="1"/>
<line x1="551.25" y1="323.1" x2="668.25" y2="323.1" stroke="#bebada" stroke-width="1"/>
<rect x="409.94" y="264" width="3.25" height="65.4" fill="#fdb462" stroke="#1a1a1a" stroke-width="0.9"/>
<rect x="434.69" y="283.25" width="3.25" height="46.15" fill="#fdb462" stroke="#1a1a1a" stroke-width="0.9"/>
<rect x="440.88" y="219.25" width="3.25" height="110.15" fill="#fdb462" stroke="#1a1a1a" stroke-width="0.9"/>
<rect x="465.62" y="259.25" width="3.25" height="70.15" fill="#b3de69" stroke="#1a1a1a" stroke-width="0.9"/>
<rect x="484.19" y="254.5" width="3.25" height="74.9" fill="#b3de69" stroke="#1a1a1a" stroke-width="0.9"/>
<rect x="490.38" y="272.25" width="3.25" height="57.15" fill="#b3de69" stroke="#1a1a1a" stroke-width="0.9"/>
<rect x="521.31" y="246.25" width="3.25" height="83.15" fill="#b3de69" stroke="#1a1a1a" stroke-width="0.9"/>
<rect x="527.5" y="222.25" width="3.25" height="107.15" fill="#b3de69" stroke="#1a1a1a" stroke-width="0.9"/>
<rect x="589.38" y="254.75" width="3.25" height="74.65" fill="#bebada" stroke="#1a1a1a" stroke-width="0.9"/>
<rect x="607.94" y="284" width="3.25" height="45.4" fill="#bebada" stroke="#1a1a1a" stroke-width="0.9"/>
<line x1="291.1" y1="207" x2="291.1" y2="329.9" stroke="#8a8a8a" stroke-width="1.1"/>
<line x1="290.6" y1="329.4" x2="668.25" y2="329.4" stroke="#8a8a8a" stroke-width="1.1"/>
<text x="288.6" y="331.25" font-size="6.8" text-anchor="end" textLength="17.4" lengthAdjust="spacing" fill="#1e1e1e">0.000</text>
<text x="288.6" y="313.79" font-size="6.8" text-anchor="end" textLength="17.4" lengthAdjust="spacing" fill="#1e1e1e">0.002</text>
<text x="288.6" y="296.34" font-size="6.8" text-anchor="end" textLength="17.4" lengthAdjust="spacing" fill="#1e1e1e">0.004</text>
<text x="288.6" y="278.88" font-size="6.8" text-anchor="end" textLength="17.4" lengthAdjust="spacing" fill="#1e1e1e">0.006</text>
<text x="288.6" y="261.42" font-size="6.8" text-anchor="end" textLength="17.4" lengthAdjust="spacing" fill="#1e1e1e">0.008</text>
<text x="288.6" y="243.96" font-size="6.8" text-anchor="end" textLength="17.4" lengthAdjust="spacing" fill="#1e1e1e">0.010</text>
<text x="288.6" y="226.51" font-size="6.8" text-anchor="end" textLength="17.4" lengthAdjust="spacing" fill="#1e1e1e">0.012</text>
<text x="288.6" y="209.05" font-size="6.8" text-anchor="end" textLength="17.4" lengthAdjust="spacing" fill="#1e1e1e">0.014</text>
<text class="lb" transform="translate(297.5 332.1) rotate(-90)" font-size="6.3" text-anchor="end" textLength="12.86" lengthAdjust="spacingAndGlyphs" fill="#1e1e1e">I2KF</text>
<text class="lb" transform="translate(303.69 332.1) rotate(-90)" font-size="6.3" text-anchor="end" textLength="14.58" lengthAdjust="spacingAndGlyphs" fill="#1e1e1e">I2KM</text>
<text class="lb" transform="translate(309.88 332.1) rotate(-90)" font-size="6.3" text-anchor="end" textLength="14.06" lengthAdjust="spacingAndGlyphs" fill="#1e1e1e">I2NA</text>
<text class="lb" transform="translate(316.06 332.1) rotate(-90)" font-size="6.3" text-anchor="end" textLength="13.71" lengthAdjust="spacingAndGlyphs" fill="#1e1e1e">I2PD</text>
<text class="lb" transform="translate(322.25 332.1) rotate(-90)" font-size="6.3" text-anchor="end" textLength="13.6" lengthAdjust="spacingAndGlyphs" fill="#1e1e1e">I2PH</text>
<text class="lb" transform="translate(328.44 332.1) rotate(-90)" font-size="6.3" text-anchor="end" textLength="13.26" lengthAdjust="spacingAndGlyphs" fill="#1e1e1e">I2PR</text>
<text class="lb" transform="translate(334.62 332.1) rotate(-90)" font-size="6.3" text-anchor="end" textLength="12.76" lengthAdjust="spacingAndGlyphs" fill="#1e1e1e">I2PY</text>
<text class="lb" transform="translate(340.81 332.1) rotate(-90)" font-size="6.3" text-anchor="end" textLength="13.46" lengthAdjust="spacingAndGlyphs" fill="#1e1e1e">I2R9</text>
<text class="lb" transform="translate(347 332.1) rotate(-90)" font-size="6.3" text-anchor="end" textLength="14.13" lengthAdjust="spacingAndGlyphs" fill="#1e1e1e">I2RN</text>
<text class="lb" transform="translate(353.19 332.1) rotate(-90)" font-size="6.3" text-anchor="end" textLength="15.9" lengthAdjust="spacingAndGlyphs" fill="#1e1e1e">I2WH</text>
<text class="lb" transform="translate(359.38 332.1) rotate(-90)" font-size="6.3" text-anchor="end" textLength="13.53" lengthAdjust="spacingAndGlyphs" fill="#1e1e1e">I2YU</text>
<text class="lb" transform="translate(365.56 332.1) rotate(-90)" font-size="6.3" text-anchor="end" textLength="13.77" lengthAdjust="spacingAndGlyphs" fill="#1e1e1e">I30N</text>
<text class="lb" transform="translate(371.75 332.1) rotate(-90)" font-size="6.3" text-anchor="end" textLength="12.91" lengthAdjust="spacingAndGlyphs" fill="#1e1e1e">I30P</text>
<text class="lb" transform="translate(377.94 332.1) rotate(-90)" font-size="6.3" text-anchor="end" textLength="13.68" lengthAdjust="spacingAndGlyphs" fill="#1e1e1e">I30U</text>
<text class="lb" transform="translate(384.12 332.1) rotate(-90)" font-size="6.3" text-anchor="end" textLength="13.51" lengthAdjust="spacingAndGlyphs" fill="#1e1e1e">I3KV</text>
<text class="lb" transform="translate(390.31 332.1) rotate(-90)" font-size="6.3" text-anchor="end" textLength="13.63" lengthAdjust="spacingAndGlyphs" fill="#1e1e1e">I3NY</text>
<text class="lb" transform="translate(396.5 332.1) rotate(-90)" font-size="6.3" text-anchor="end" textLength="13.11" lengthAdjust="spacingAndGlyphs" fill="#1e1e1e">I438</text>
<text class="lb" transform="translate(402.69 332.1) rotate(-90)" font-size="6.3" text-anchor="end" textLength="13.92" lengthAdjust="spacingAndGlyphs" fill="#1e1e1e">I2KH</text>
<text class="lb" transform="translate(408.88 332.1) rotate(-90)" font-size="6.3" text-anchor="end" textLength="14.46" lengthAdjust="spacingAndGlyphs" fill="#1e1e1e">I2M5</text>
<text class="lb" transform="translate(415.06 332.1) rotate(-90)" font-size="6.3" text-anchor="end" textLength="14.46" lengthAdjust="spacingAndGlyphs" fill="#1e1e1e">I2M9</text>
<text class="lb" transform="translate(421.25 332.1) rotate(-90)" font-size="6.3" text-anchor="end" textLength="13.46" lengthAdjust="spacingAndGlyphs" fill="#1e1e1e">I2R6</text>
<text class="lb" transform="translate(427.44 332.1) rotate(-90)" font-size="6.3" text-anchor="end" textLength="11.08" lengthAdjust="spacingAndGlyphs" fill="#1e1e1e">I30J</text>
<text class="lb" transform="translate(433.62 332.1) rotate(-90)" font-size="6.3" text-anchor="end" textLength="12.96" lengthAdjust="spacingAndGlyphs" fill="#1e1e1e">I30T</text>
<text class="lb" transform="translate(439.81 332.1) rotate(-90)" font-size="6.3" text-anchor="end" textLength="14.07" lengthAdjust="spacingAndGlyphs" fill="#1e1e1e">I3NX</text>
<text class="lb" transform="translate(446 332.1) rotate(-90)" font-size="6.3" text-anchor="end" textLength="13.11" lengthAdjust="spacingAndGlyphs" fill="#1e1e1e">I437</text>
<text class="lb" transform="translate(452.19 332.1) rotate(-90)" font-size="6.3" text-anchor="end" textLength="14.05" lengthAdjust="spacingAndGlyphs" fill="#1e1e1e">I2KG</text>
<text class="lb" transform="translate(458.38 332.1) rotate(-90)" font-size="6.3" text-anchor="end" textLength="13.35" lengthAdjust="spacingAndGlyphs" fill="#1e1e1e">I2KK</text>
<text class="lb" transform="translate(464.56 332.1) rotate(-90)" font-size="6.3" text-anchor="end" textLength="14.46" lengthAdjust="spacingAndGlyphs" fill="#1e1e1e">I2M4</text>
<text class="lb" transform="translate(470.75 332.1) rotate(-90)" font-size="6.3" text-anchor="end" textLength="14.46" lengthAdjust="spacingAndGlyphs" fill="#1e1e1e">I2M8</text>
<text class="lb" transform="translate(476.94 332.1) rotate(-90)" font-size="6.3" text-anchor="end" textLength="15.12" lengthAdjust="spacingAndGlyphs" fill="#1e1e1e">I2MN</text>
<text class="lb" transform="translate(483.12 332.1) rotate(-90)" font-size="6.3" text-anchor="end" textLength="13.46" lengthAdjust="spacingAndGlyphs" fill="#1e1e1e">I2R0</text>
<text class="lb" transform="translate(489.31 332.1) rotate(-90)" font-size="6.3" text-anchor="end" textLength="13.46" lengthAdjust="spacingAndGlyphs" fill="#1e1e1e">I2R8</text>
<text class="lb" transform="translate(495.5 332.1) rotate(-90)" font-size="6.3" text-anchor="end" textLength="13.58" lengthAdjust="spacingAndGlyphs" fill="#1e1e1e">I2RK</text>
<text class="lb" transform="translate(501.69 332.1) rotate(-90)" font-size="6.3" text-anchor="end" textLength="13.18" lengthAdjust="spacingAndGlyphs" fill="#1e1e1e">I2WJ</text>
<text class="lb" transform="translate(507.88 332.1) rotate(-90)" font-size="6.3" text-anchor="end" textLength="13.24" lengthAdjust="spacingAndGlyphs" fill="#1e1e1e">I2YV</text>
<text class="lb" transform="translate(514.06 332.1) rotate(-90)" font-size="6.3" text-anchor="end" textLength="13.08" lengthAdjust="spacingAndGlyphs" fill="#1e1e1e">I30E</text>
<text class="lb" transform="translate(520.25 332.1) rotate(-90)" font-size="6.3" text-anchor="end" textLength="13.23" lengthAdjust="spacingAndGlyphs" fill="#1e1e1e">I30K</text>
<text class="lb" transform="translate(526.44 332.1) rotate(-90)" font-size="6.3" text-anchor="end" textLength="13.41" lengthAdjust="spacingAndGlyphs" fill="#1e1e1e">I31B</text>
<text class="lb" transform="translate(532.62 332.1) rotate(-90)" font-size="6.3" text-anchor="end" textLength="13.8" lengthAdjust="spacingAndGlyphs" fill="#1e1e1e">I3KU</text>
<text class="lb" transform="translate(538.81 332.1) rotate(-90)" font-size="6.3" text-anchor="end" textLength="15.49" lengthAdjust="spacingAndGlyphs" fill="#1e1e1e">I3WV</text>
<text class="lb" transform="translate(545 332.1) rotate(-90)" font-size="6.3" text-anchor="end" textLength="12.74" lengthAdjust="spacingAndGlyphs" fill="#1e1e1e">I42F</text>
<text class="lb" transform="translate(551.19 332.1) rotate(-90)" font-size="6.3" text-anchor="end" textLength="12.74" lengthAdjust="spacingAndGlyphs" fill="#1e1e1e">I43F</text>
<text class="lb" transform="translate(557.38 332.1) rotate(-90)" font-size="6.3" text-anchor="end" textLength="13.8" lengthAdjust="spacingAndGlyphs" fill="#1e1e1e">I2H1</text>
<text class="lb" transform="translate(563.56 332.1) rotate(-90)" font-size="6.3" text-anchor="end" textLength="11.2" lengthAdjust="spacingAndGlyphs" fill="#1e1e1e">I2KJ</text>
<text class="lb" transform="translate(569.75 332.1) rotate(-90)" font-size="6.3" text-anchor="end" textLength="13.89" lengthAdjust="spacingAndGlyphs" fill="#1e1e1e">I2KN</text>
<text class="lb" transform="translate(575.94 332.1) rotate(-90)" font-size="6.3" text-anchor="end" textLength="14.46" lengthAdjust="spacingAndGlyphs" fill="#1e1e1e">I2M3</text>
<text class="lb" transform="translate(582.12 332.1) rotate(-90)" font-size="6.3" text-anchor="end" textLength="15.81" lengthAdjust="spacingAndGlyphs" fill="#1e1e1e">I2MM</text>
<text class="lb" transform="translate(588.31 332.1) rotate(-90)" font-size="6.3" text-anchor="end" textLength="13.28" lengthAdjust="spacingAndGlyphs" fill="#1e1e1e">I2PC</text>
<text class="lb" transform="translate(594.5 332.1) rotate(-90)" font-size="6.3" text-anchor="end" textLength="14.26" lengthAdjust="spacingAndGlyphs" fill="#1e1e1e">I2PM</text>
<text class="lb" transform="translate(600.69 332.1) rotate(-90)" font-size="6.3" text-anchor="end" textLength="13.46" lengthAdjust="spacingAndGlyphs" fill="#1e1e1e">I2R1</text>
<text class="lb" transform="translate(606.88 332.1) rotate(-90)" font-size="6.3" text-anchor="end" textLength="13.46" lengthAdjust="spacingAndGlyphs" fill="#1e1e1e">I2R7</text>
<text class="lb" transform="translate(613.06 332.1) rotate(-90)" font-size="6.3" text-anchor="end" textLength="14.15" lengthAdjust="spacingAndGlyphs" fill="#1e1e1e">I2RH</text>
<text class="lb" transform="translate(619.25 332.1) rotate(-90)" font-size="6.3" text-anchor="end" textLength="15.06" lengthAdjust="spacingAndGlyphs" fill="#1e1e1e">I2TW</text>
<text class="lb" transform="translate(625.44 332.1) rotate(-90)" font-size="6.3" text-anchor="end" textLength="16.04" lengthAdjust="spacingAndGlyphs" fill="#1e1e1e">I2WG</text>
<text class="lb" transform="translate(631.62 332.1) rotate(-90)" font-size="6.3" text-anchor="end" textLength="12.81" lengthAdjust="spacingAndGlyphs" fill="#1e1e1e">I2YT</text>
<text class="lb" transform="translate(637.81 332.1) rotate(-90)" font-size="6.3" text-anchor="end" textLength="14.46" lengthAdjust="spacingAndGlyphs" fill="#1e1e1e">I30M</text>
<text class="lb" transform="translate(644 332.1) rotate(-90)" font-size="6.3" text-anchor="end" textLength="13.46" lengthAdjust="spacingAndGlyphs" fill="#1e1e1e">I30R</text>
<text class="lb" transform="translate(650.19 332.1) rotate(-90)" font-size="6.3" text-anchor="end" textLength="13.39" lengthAdjust="spacingAndGlyphs" fill="#1e1e1e">I30V</text>
<text class="lb" transform="translate(656.38 332.1) rotate(-90)" font-size="6.3" text-anchor="end" textLength="13.76" lengthAdjust="spacingAndGlyphs" fill="#1e1e1e">I3DT</text>
<text class="lb" transform="translate(662.56 332.1) rotate(-90)" font-size="6.3" text-anchor="end" textLength="15.33" lengthAdjust="spacingAndGlyphs" fill="#1e1e1e">I3KW</text>
<text class="lb" transform="translate(668.75 332.1) rotate(-90)" font-size="6.3" text-anchor="end" textLength="13.08" lengthAdjust="spacingAndGlyphs" fill="#1e1e1e">I43E</text>
<text x="458.75" y="203.2" font-size="7" text-anchor="start" textLength="43.4" lengthAdjust="spacing" fill="#1e1e1e">Flavobacteriia</text>
<text x="637.5" y="206.2" font-size="7" fill="#1e1e1e" textLength="30.75" lengthAdjust="spacing"><tspan font-family="'Liberation Serif', serif" font-style="italic" font-size="6.65" fill="#444" stroke-width="0">p</tspan> = 0.030</text>
<text transform="translate(265.8 267) rotate(-90)" font-size="6.5" text-anchor="middle" textLength="89" lengthAdjust="spacing" fill="#1e1e1e">Proportion of sequences (%)</text>
<rect x="629" y="251.7" width="12.5" height="4.5" fill="#80b1d3" stroke="#1a1a1a" stroke-width="0.9"/>
<text x="646.25" y="256.2" font-size="6.3" text-anchor="start" textLength="12.4" lengthAdjust="spacing" fill="#1e1e1e">ASD</text>
<rect x="629" y="260.9" width="12.5" height="4.5" fill="#fdb462" stroke="#1a1a1a" stroke-width="0.9"/>
<text x="646.25" y="265.4" font-size="6.3" text-anchor="start" textLength="15" lengthAdjust="spacing" fill="#1e1e1e">HC-c</text>
<rect x="629" y="270.1" width="12.5" height="4.5" fill="#b3de69" stroke="#1a1a1a" stroke-width="0.9"/>
<text x="646.25" y="274.6" font-size="6.3" text-anchor="start" textLength="13.6" lengthAdjust="spacing" fill="#1e1e1e">HC-f</text>
<rect x="629" y="279.3" width="12.5" height="4.5" fill="#bebada" stroke="#1a1a1a" stroke-width="0.9"/>
<text x="646.25" y="283.8" font-size="6.3" text-anchor="start" textLength="17.3" lengthAdjust="spacing" fill="#1e1e1e">HC-m</text>
<path d="M417.75 303.95V322.3M414.45 316.3L417.75 322.8L421.05 316.3" stroke="#e5475f" stroke-width="1.9" fill="none" stroke-linecap="round" stroke-linejoin="round"/>
<path d="M416.25 319.3L417.75 322.8L419.25 319.3Z" fill="#e5475f"/>
<path d="M436.31 258.95V276.55M433.01 270.55L436.31 277.05L439.61 270.55" stroke="#e5475f" stroke-width="1.9" fill="none" stroke-linecap="round" stroke-linejoin="round"/>
<path d="M434.81 273.55L436.31 277.05L437.81 273.55Z" fill="#e5475f"/>
<path d="M442.5 194.75V212.55M439.2 206.55L442.5 213.05L445.8 206.55" stroke="#e5475f" stroke-width="1.9" fill="none" stroke-linecap="round" stroke-linejoin="round"/>
<path d="M441 209.55L442.5 213.05L444 209.55Z" fill="#e5475f"/>
</svg>
</body></html>
